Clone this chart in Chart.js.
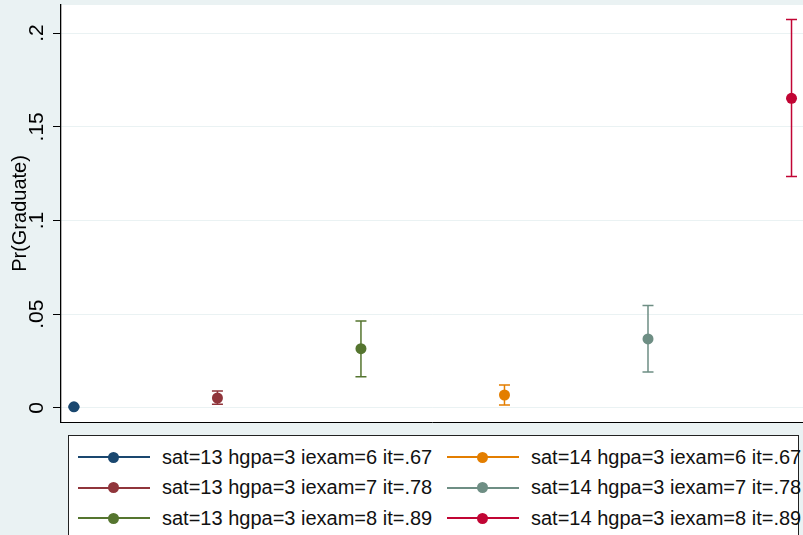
<!DOCTYPE html>
<html>
<head>
<meta charset="utf-8">
<script src="https://cdn.jsdelivr.net/npm/chart.js@4/dist/chart.umd.min.js"></script>
<style>
  html, body { margin: 0; padding: 0; }
  body { width: 803px; height: 535px; overflow: hidden; background: #eaf2f3; position: relative;
         font-family: "Liberation Sans", Arial, Helvetica, sans-serif; }
  #wrap { position: absolute; left: 0; top: 0; width: 803px; height: 424px; }
  #legend { position: absolute; left: 68px; top: 435px; width: 731px; height: 120px;
            box-sizing: border-box; border: 1px solid #222; background: #fff; }
  .item { position: absolute; height: 30px; display: flex; align-items: center; font-size: 20px; color: #111; white-space: nowrap; }
  .sym { position: relative; width: 72px; height: 30px; margin-right: 12px; }
  .sym .ln { position: absolute; left: 0; right: 0; top: 14px; height: 2px; }
  .sym .dot { position: absolute; left: 30px; top: 9.5px; width: 11px; height: 11px; border-radius: 50%; }
</style>
</head>
<body>
<div id="wrap"><canvas id="marginsChart"></canvas></div>
<div id="legend"></div>
<script>
// predicted probabilities with 95% CIs
const categories = [1, 2, 3, 4, 5, 6];
const seriesLabels = [
    'sat=13 hgpa=3 iexam=6 it=.67',
    'sat=13 hgpa=3 iexam=7 it=.78',
    'sat=13 hgpa=3 iexam=8 it=.89',
    'sat=14 hgpa=3 iexam=6 it=.67',
    'sat=14 hgpa=3 iexam=7 it=.78',
    'sat=14 hgpa=3 iexam=8 it=.89'
];
const estimates = [0.0006, 0.0053, 0.0316, 0.0069, 0.0368, 0.1652];
const lower     = [0.0003, 0.0020, 0.0167, 0.0016, 0.0192, 0.1235];
const upper     = [0.0009, 0.0090, 0.0464, 0.0123, 0.0546, 0.2073];
const yTickValues = [0, 0.05, 0.1, 0.15, 0.2];
const yTickLabels = ['0', '.05', '.1', '.15', '.2'];
const colors = ['#1a476f', '#90353b', '#55752f', '#e37e00', '#6e8e84', '#c10534'];

// white plot region
const plotBg = {
    id: 'plotBg',
    beforeDraw(chart) {
        const a = chart.chartArea;
        chart.ctx.save();
        chart.ctx.fillStyle = '#ffffff';
        chart.ctx.fillRect(a.left, a.top, a.right - a.left, a.bottom - a.top);
        chart.ctx.restore();
    }
};

// capped CI spikes
const errorBars = {
    id: 'errorBars',
    beforeDatasetsDraw(chart) {
        const { ctx, chartArea: a, scales: { x, y } } = chart;
        ctx.save();
        ctx.beginPath();
        ctx.rect(a.left, a.top, a.right - a.left, a.bottom - a.top);
        ctx.clip();
        ctx.lineWidth = 1.5;
        categories.forEach(function(c, i) {
            const px = x.getPixelForValue(c);
            const hi = y.getPixelForValue(upper[i]);
            const lo = y.getPixelForValue(lower[i]);
            ctx.strokeStyle = colors[i];
            ctx.beginPath();
            ctx.moveTo(px, hi); ctx.lineTo(px, lo);
            ctx.moveTo(px - 5.5, hi); ctx.lineTo(px + 5.5, hi);
            ctx.moveTo(px - 5.5, lo); ctx.lineTo(px + 5.5, lo);
            ctx.stroke();
        });
        ctx.restore();
    }
};

Chart.defaults.font.family = '"Liberation Sans", Arial, Helvetica, sans-serif';
Chart.defaults.color = '#000';

new Chart(document.getElementById('marginsChart').getContext('2d'), {
    type: 'scatter',
    data: {
        datasets: categories.map(function(c, i) {
            return {
                label: seriesLabels[i],
                data: [{ x: c, y: estimates[i] }],
                pointRadius: 5.5,
                pointBackgroundColor: colors[i],
                pointBorderWidth: 0
            };
        })
    },
    options: {
        responsive: true,
        maintainAspectRatio: false,
        animation: false,
        layout: { autoPadding: false, padding: { top: 5, right: 0, bottom: 2, left: 0 } },
        plugins: {
            legend: { display: false },
            tooltip: { enabled: false }
        },
        scales: {
            x: {
                type: 'linear',
                min: 0.91,
                max: 6.08,
                ticks: { display: false },
                grid: { drawOnChartArea: false, drawTicks: false },
                border: { display: true, color: '#000', width: 1 }
            },
            y: {
                min: -0.0075,
                max: 0.215,
                afterBuildTicks: function(scale) {
                    scale.ticks = yTickValues.map(function(v) { return { value: v }; });
                },
                afterFit: function(scale) {
                    scale.width = 61;
                    scale.paddingTop = 0;
                    scale.paddingBottom = 0;
                },
                ticks: {
                    minRotation: 90,
                    maxRotation: 90,
                    crossAlign: 'center',
                    padding: 1,
                    font: { size: 21 },
                    color: '#000',
                    callback: function(value, index) { return yTickLabels[index]; }
                },
                grid: { color: '#eaf2f3', lineWidth: 1, tickColor: '#000', tickLength: 8, tickWidth: 1 },
                border: { display: true, color: '#000', width: 1.3 },
                title: {
                    display: true,
                    text: 'Pr(Graduate)',
                    font: { size: 20 },
                    color: '#000',
                    padding: { top: 8, bottom: 0 }
                }
            }
        }
    },
    plugins: [plotBg, errorBars]
});

// legend: two columns, three rows
const legend = document.getElementById('legend');
seriesLabels.forEach(function(label, i) {
    const col = Math.floor(i / 3), row = i % 3;
    const el = document.createElement('div');
    el.className = 'item';
    el.style.left = (9 + col * 369) + 'px';
    el.style.top = (6 + row * 30.5) + 'px';
    el.innerHTML = '<span class="sym"><span class="ln" style="background:' + colors[i] + '"></span>' +
        '<span class="dot" style="background:' + colors[i] + '"></span></span><span>' + label + '</span>';
    legend.appendChild(el);
});
</script>
</body>
</html>
